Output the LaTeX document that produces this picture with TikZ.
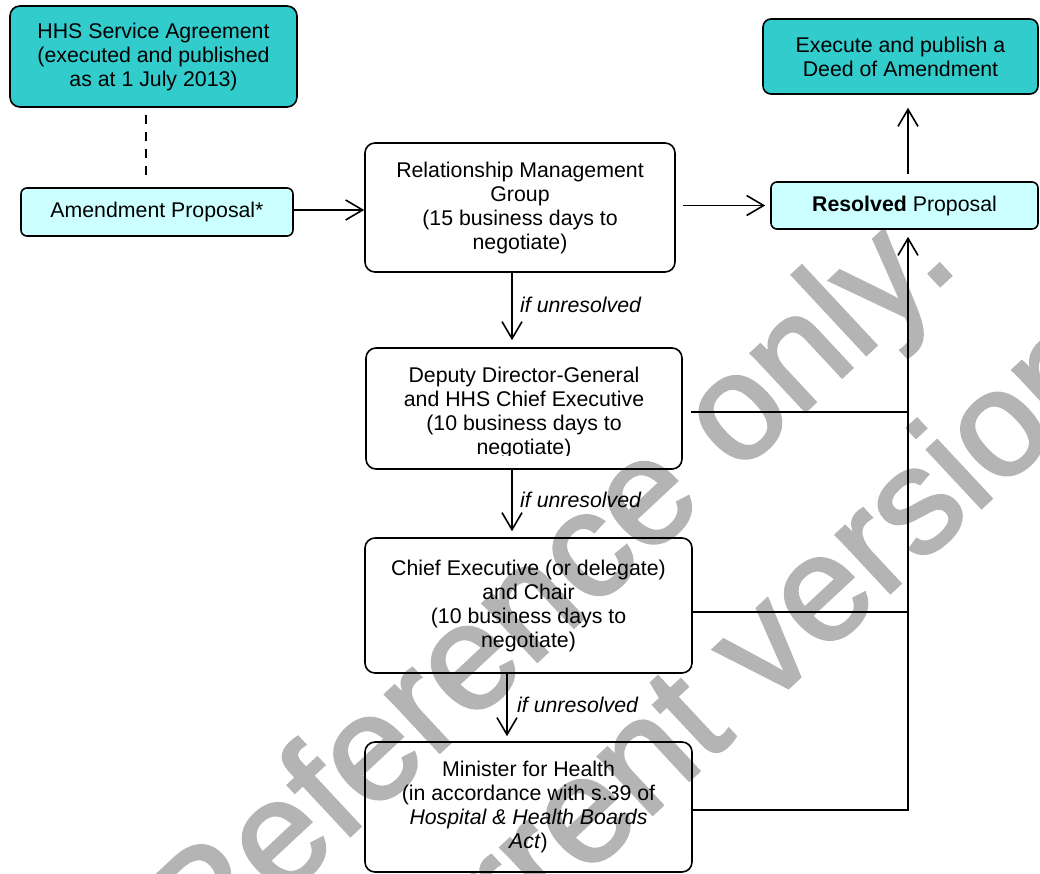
\documentclass[tikz,border=0pt]{standalone}
\usepackage{fontspec}
\setmainfont{Liberation Sans}
\newfontfamily\wmfont[FakeBold=2]{Liberation Sans}
\usetikzlibrary{arrows.meta}
\definecolor{teal1}{HTML}{33CCCC}
\definecolor{cyan1}{HTML}{CCFFFF}
\definecolor{wmgray}{RGB}{180,180,180}
\newcommand{\bodyfont}{\fontsize{21.3pt}{24pt}\selectfont}
\tikzset{
  box/.style={draw, line width=1.6pt, rounded corners=10pt, inner sep=0pt, align=center, font=\bodyfont},
  smallbox/.style={box, rounded corners=6pt},
  conn/.style={line width=1.6pt},
  arr/.style={conn, -{Straight Barb[length=17pt,width=20pt,line width=1.6pt]}},
  lbl/.style={font=\bodyfont\itshape, anchor=west, inner sep=0pt},
  wm/.style={text=wmgray, font=\wmfont\fontsize{150pt}{170pt}\selectfont, rotate=43, anchor=base west, inner sep=0pt}
}
\begin{document}
\begin{tikzpicture}[x=1pt, y=-1pt]
\useasboundingbox (0,0) rectangle (1040,874);
% watermark
\node[wm] (wm1) at (200.4,975.4) {Reference only.};
\node[wm] (wm2) at (370.7,1077.2) {Current version};
% boxes
\node[box, fill=teal1, minimum width=287pt, minimum height=101pt] (hhs) at (153.5,56.5)
  {HHS Service Agreement\\(executed and published\\as at 1 July 2013)};
\node[smallbox, fill=cyan1, minimum width=272pt, minimum height=48pt] (amend) at (157,212)
  {Amendment Proposal*};
\node[box, minimum width=310pt, minimum height=129pt] (rmg) at (520,207.5)
  {Relationship Management\\Group\\(15 business days to\\negotiate)};
\node[box, fill=teal1, rounded corners=8pt, minimum width=275pt, minimum height=75pt] (deed) at (900.5,56.5)
  {Execute and publish a\\Deed of Amendment};
\node[smallbox, fill=cyan1, minimum width=267pt, minimum height=47pt] (resolved) at (904.5,205.5)
  {\textbf{Resolved} Proposal};
\node[box, minimum width=316pt, minimum height=121pt] (ddg) at (524,408.5) {};
\begin{scope}
  \clip (366,348) rectangle (682,455);
  \node[font=\bodyfont, align=center, inner sep=0pt] (ddgtext) at (524,413)
    {Deputy Director-General\\and HHS Chief Executive\\(10 business days to\\negotiate)};
\end{scope}
\node[box, minimum width=327pt, minimum height=135pt] (ce) at (528.5,605.5)
  {Chief Executive (or delegate)\\and Chair\\(10 business days to\\negotiate)};
\node[box, minimum width=327pt, minimum height=130pt] (min) at (528.5,807)
  {Minister for Health\\(in accordance with s.39 of\\\textit{Hospital \& Health Boards}\\\textit{Act})};
% helper coordinates
\coordinate (dx) at (146,0);
\coordinate (vx) at (908,0);
\coordinate (j1) at (908,412);
\coordinate (j2) at (908,612);
\coordinate (j3) at (908,810);
\coordinate (a1) at (512,0);
\coordinate (a2) at (507,0);
\coordinate (h1) at (0,210);
% connectors
\draw[conn, line width=2.2pt, dashed, dash pattern=on 9pt off 8pt, shorten <=7pt, shorten >=7pt]
  (hhs.south -| dx) -- (amend.north -| dx);
\draw[arr] (amend.east |- h1) -- (rmg.west |- h1);
\draw[arr, shorten <=7pt, shorten >=5pt] (rmg.east |- resolved.west) -- (resolved.west);
\draw[arr, shorten <=7pt, shorten >=13pt] (resolved.north -| vx) -- (deed.south -| vx);
\draw[arr, shorten >=7pt] (rmg.south -| a1) -- (ddg.north -| a1);
\draw[arr, shorten >=6pt] (ddg.south -| a1) -- (ce.north -| a1);
\draw[arr, shorten >=5pt] (ce.south -| a2) -- (min.north -| a2);
\draw[conn, shorten <=8pt] (ddg.east |- j1) -- (j1);
\draw[conn] (ce.east |- j2) -- (j2);
\draw[arr, shorten >=7pt] (min.east |- j3) -- (j3) -- (resolved.south -| j3);
% labels
\node[lbl] (l1) at (520,305) {if unresolved};
\node[lbl] (l2) at (520,500) {if unresolved};
\node[lbl] (l3) at (517,705) {if unresolved};
\end{tikzpicture}
\end{document}
